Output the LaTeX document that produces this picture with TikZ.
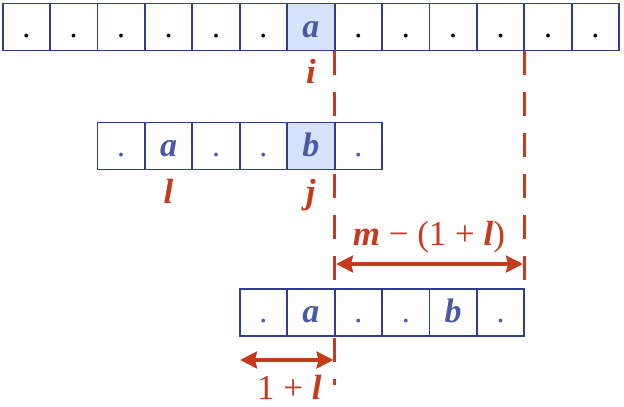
\documentclass[tikz,border=0pt]{standalone}
\usepackage{fontspec}
\setmainfont{Liberation Serif}
\usetikzlibrary{arrows.meta}
\definecolor{boxblue}{HTML}{2E3F92}
\definecolor{txtblue}{HTML}{4A58A6}
\definecolor{cellfill}{HTML}{D6E3FA}
\definecolor{redc}{HTML}{C43B1E}
\newcommand\bitx[1]{\textbf{\textit{#1}}}
\begin{document}
\begin{tikzpicture}[x=1pt,y=-1pt,
  cell/.style={draw=boxblue, line width=1.8pt, fill=white,
    minimum width=47.43pt, minimum height=47pt, inner sep=0pt,
    text height=20pt, text depth=0pt, text=txtblue,
    font=\fontsize{34}{38}\selectfont\bfseries\itshape},
  dotcell/.style={cell, font=\fontsize{32}{36}\selectfont},
  hicell/.style={cell, fill=cellfill},
  lab/.style={text=redc, inner sep=0pt, anchor=base,
    font=\fontsize{35}{38}\selectfont},
  dashline/.style={draw=redc, line width=2.8pt, dash pattern=on 24pt off 17pt},
  dimarrow/.style={draw=redc, line width=3.2pt,
    {Stealth[length=17pt,width=17pt,inset=2pt]}-{Stealth[length=17pt,width=17pt,inset=2pt]}},
]
\useasboundingbox (0,0) rectangle (624,407);
% dashed guide lines (behind the cells)
\coordinate (g1top) at (334.75,50.5);
\coordinate (g1end) at (334.75,385);
\coordinate (g2top) at (524.47,50.5);
\coordinate (g2end) at (524.47,282);
\draw[dashline] (g1top) -- (g1end);
\draw[dashline] (g2top) -- (g2end);
% top row
\foreach \k in {0,...,12}{
  \ifnum\k=6
    \node[hicell] (t\k) at ({2.6+47.43*(\k+0.5)},27) {a};
  \else
    \node[dotcell, text=black] (t\k) at ({2.6+47.43*(\k+0.5)},27) {.};
  \fi
}
% second row
\node[dotcell] (s2) at ({2.6+47.43*2.5},146) {.};
\node[cell]    (s3) at ({2.6+47.43*3.5},146) {a};
\node[dotcell] (s4) at ({2.6+47.43*4.5},146) {.};
\node[dotcell] (s5) at ({2.6+47.43*5.5},146) {.};
\node[hicell]  (s6) at ({2.6+47.43*6.5},146) {b};
\node[dotcell] (s7) at ({2.6+47.43*7.5},146) {.};
% third row
\node[dotcell] (r5)  at ({2.6+47.43*5.5},312.3) {.};
\node[cell]    (r6)  at ({2.6+47.43*6.5},312.3) {a};
\node[dotcell] (r7)  at ({2.6+47.43*7.5},312.3) {.};
\node[dotcell] (r8)  at ({2.6+47.43*8.5},312.3) {.};
\node[cell]    (r9)  at ({2.6+47.43*9.5},312.3) {b};
\node[dotcell] (r10) at ({2.6+47.43*10.5},312.3) {.};
% index labels
\node[lab] (li) at ({2.6+47.43*6.5},83.3) {\bitx{i}};
\node[lab] (ll) at ({2.6+47.43*3.5},203.3) {\bitx{l}};
\node[lab] (lj) at ({2.6+47.43*6.5},203.3) {\bitx{j}};
% dimension arrows
\coordinate (m1) at (336,264);
\coordinate (m2) at (523,264);
\draw[dimarrow] (m1) -- (m2);
\node[lab] (lm) at (429,245) {\bitx{m} − (1 + \bitx{l})};
\coordinate (n1) at (240,360);
\coordinate (n2) at (333.5,360);
\draw[dimarrow] (n1) -- (n2);
\node[lab, text depth=0pt] (ln) at (289.3,399) {1 + \bitx{l}};
\end{tikzpicture}
\end{document}
